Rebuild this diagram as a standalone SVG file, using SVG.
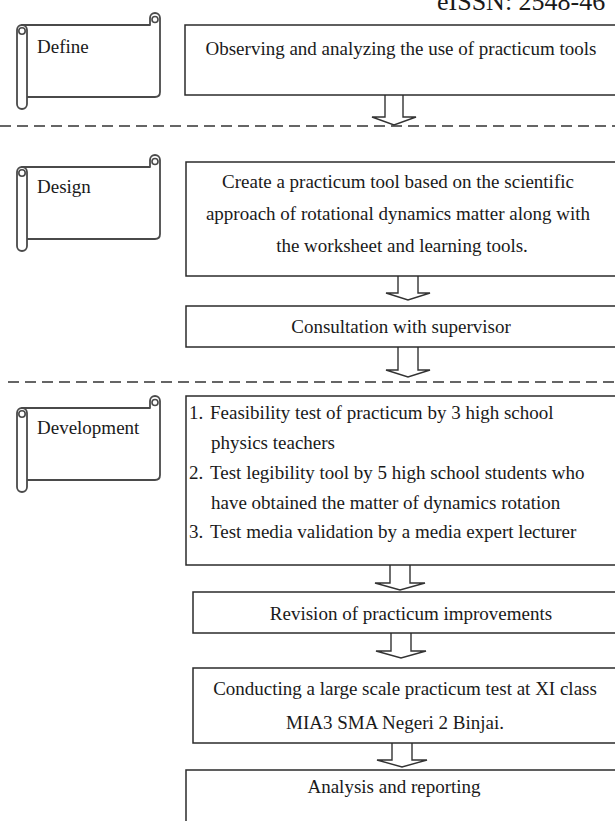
<svg xmlns="http://www.w3.org/2000/svg" width="615" height="821" viewBox="0 0 615 821">
<defs>
<style>
.box{fill:#fff;stroke:#2b2b2b;stroke-width:1.5}
.txt{font-family:"Liberation Serif","Times New Roman",serif;font-size:19px;fill:#1a1a1a}
.c{text-anchor:middle}
.scroll{fill:#fff;stroke:#4a4a4a;stroke-width:1.8;stroke-linejoin:round}
.loop{fill:none;stroke:#4a4a4a;stroke-width:1.6}
.arrow{fill:#fff;stroke:#333;stroke-width:1.4;stroke-linejoin:miter}
.dash{fill:none;stroke:#333;stroke-width:1.5;stroke-dasharray:11 6}
</style>
<g id="scrollShape">
<path class="scroll" d="M22,25 H150 V18 A5,5 0 0 1 160,18 V92 Q160,97 155,97 H22 Z"/>
<circle class="loop" cx="155" cy="19.5" r="3"/>
<rect class="scroll" x="17" y="25" width="10" height="84" rx="5"/>
<circle class="loop" cx="22" cy="31" r="3.2"/>
</g>
</defs>
<rect width="615" height="821" fill="#fff"/>
<text class="txt" x="437" y="10" style="font-size:26px">eISSN: 2548-46</text>

<g id="connectors">
<line class="dash" x1="0" y1="126" x2="615" y2="126"/>
<line class="dash" x1="8" y1="382" x2="615" y2="382"/>
<path class="arrow" d="M385,95 V117 H372 L394,125 L416,117 H403 V95"/>
<path class="arrow" d="M398,276 V293 H386 L408,300 L430,293 H418 V276"/>
<path class="arrow" d="M398,347 V370 H386 L408,377 L430,370 H418 V347"/>
<path class="arrow" d="M390,565 V583 H375 L400,590 L425,583 H410 V565"/>
<path class="arrow" d="M391,633 V651 H376 L401,658 L426,651 H411 V633"/>
<path class="arrow" d="M392,743 V760 H377 L402,767 L427,760 H412 V743"/>
</g>

<g id="label-define">
<use href="#scrollShape"/>
<text class="txt" x="37" y="53">Define</text>
</g>
<g id="label-design">
<use href="#scrollShape" transform="translate(0,142)"/>
<text class="txt" x="37" y="193">Design</text>
</g>
<g id="label-development">
<use href="#scrollShape" transform="translate(0,383)"/>
<text class="txt" x="37" y="434">Development</text>
</g>

<g id="define-box">
<rect class="box" x="185" y="25" width="440" height="70"/>
<text class="txt c" x="401" y="55">Observing and analyzing the use of practicum tools</text>
</g>
<g id="design-box">
<rect class="box" x="186" y="162" width="440" height="114"/>
<text class="txt c" x="398" y="188">Create a practicum tool based on the scientific</text>
<text class="txt c" x="398" y="220">approach of rotational dynamics matter along with</text>
<text class="txt c" x="402" y="252">the worksheet and learning tools.</text>
</g>
<g id="consultation-box">
<rect class="box" x="186" y="306" width="440" height="41"/>
<text class="txt c" x="401" y="333">Consultation with supervisor</text>
</g>
<g id="development-box">
<rect class="box" x="186" y="396" width="440" height="169"/>
<text class="txt" y="419"><tspan x="189">1.</tspan><tspan x="210">Feasibility test of practicum by 3 high school</tspan></text>
<text class="txt" x="211" y="448.5">physics teachers</text>
<text class="txt" y="478.5"><tspan x="189">2.</tspan><tspan x="210">Test legibility tool by 5 high school students who</tspan></text>
<text class="txt" x="211" y="508.5">have obtained the matter of dynamics rotation</text>
<text class="txt" y="538"><tspan x="189">3.</tspan><tspan x="210">Test media validation by a media expert lecturer</tspan></text>
</g>
<g id="revision-box">
<rect class="box" x="193" y="592" width="440" height="41"/>
<text class="txt c" x="411" y="620">Revision of practicum improvements</text>
</g>
<g id="conducting-box">
<rect class="box" x="193" y="668" width="440" height="75"/>
<text class="txt c" x="405" y="695">Conducting a large scale practicum test at XI class</text>
<text class="txt c" x="395" y="729">MIA3 SMA Negeri 2 Binjai.</text>
</g>
<g id="analysis-box">
<rect class="box" x="186" y="770" width="440" height="70"/>
<text class="txt c" x="394" y="793">Analysis and reporting</text>
</g>
</svg>
